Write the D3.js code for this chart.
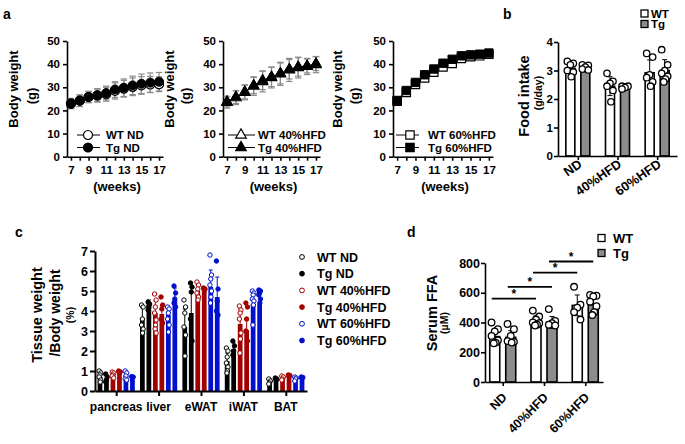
<!DOCTYPE html>
<html><head><meta charset="utf-8">
<script src="https://cdn.jsdelivr.net/npm/d3@7"></script>
<style>
body{margin:0;background:#fff}
svg{display:block;font-family:"Liberation Sans",Arial,Helvetica,sans-serif;font-weight:bold}
</style></head><body>
<svg id="fig" width="685" height="444"></svg>
<script>
// ---------- DATA ----------
// panel a: body weight (g) by week
const weeks=[7,8,9,10,11,12,13,14,15,16,17];
const weekTicks=[7,9,11,13,15,17];
const bwTicks=[0,10,20,30,40,50];
const wtND=[23.0,24.2,25.8,26.4,27.0,28.4,29.4,30.2,30.8,31.2,31.3];
const wtNDsd=[2.2,2.5,2.5,2.8,3.0,3.5,3.6,3.8,3.8,3.5,3.2];
const tgND=[22.8,24.2,25.8,26.6,27.5,29.0,29.8,30.8,31.5,32.0,32.4];
const tgNDsd=[2.0,2.5,2.3,2.8,3.0,3.4,3.8,4.0,4.2,4.2,4.0];
const wt40=[23.5,25.5,27.8,30.5,32.5,34.2,35.8,37.5,38.5,39.0,39.8];
const wt40sd=[2.5,3.0,3.2,4.0,4.5,4.5,5.0,5.0,4.5,3.5,3.5];
const tg40=[23.8,25.8,28.0,30.8,33.0,34.5,36.0,37.8,38.8,39.2,40.2];
const tg40sd=[2.3,2.8,3.0,3.5,4.0,4.2,4.5,4.2,4.0,3.0,3.0];
const wt60=[24.0,27.8,31.2,34.0,36.5,38.8,40.3,42.5,43.2,43.6,44.3];
const wt60sd=[1.0,1.0,1.0,1.2,1.3,1.5,1.5,1.5,1.5,1.5,1.5];
const tg60=[24.3,28.6,32.1,35.4,37.9,40.4,42.1,43.6,44.0,44.3,44.8];
const tg60sd=[0.8,0.9,1.0,1.0,1.0,1.0,1.0,1.0,1.0,1.0,1.0];

// panel b: food intake (g/day)
const dietCats=["ND","40%HFD","60%HFD"];
const genotypes=["WT","Tg"];
const foodTicks=[0,1,2,3,4];
const foodWT=[3.08,2.45,2.92];
const foodWTsd=[0.2,0.33,0.45];
const foodTg=[3.05,2.38,3.0];
const foodTgsd=[0.1,0.06,0.38];
const foodWTdots=[[3.32,3.25,3.2,3.0,2.95,2.78],[2.9,2.62,2.55,2.45,2.3,1.9],[3.6,3.47,2.85,2.75,2.6,2.45]];
const foodTgdots=[[3.2,3.18,3.12,3.05,3.02],[2.45,2.45,2.4,2.35],[3.73,3.2,3.0,2.9,2.8,2.7,2.6]];

// panel c: tissue weight / body weight (%)
const tissues=["pancreas","liver","eWAT","iWAT","BAT"];
const tisGroups=["WT ND","Tg ND","WT 40%HFD","Tg 40%HFD","WT 60%HFD","Tg 60%HFD"];
const tisTicks=[0,1,2,3,4,5,6,7];
const tisWTND=[0.7,3.65,3.2,1.5,0.5];
const tisTgND=[0.62,4.4,3.9,2.1,0.6];
const tisWT40=[0.85,3.9,5.0,3.35,0.65];
const tisTg40=[0.95,3.85,5.1,3.05,0.75];
const tisWT60=[0.78,3.8,5.2,4.35,0.62];
const tisTg60=[0.7,4.55,4.7,4.35,0.65];
const tisWTNDsd=[0.2,0.5,0.9,0.4,0.1];
const tisTgNDsd=[0.2,0.15,1.3,0.3,0.05];
const tisWT40sd=[0.1,0.6,0.3,0.8,0.08];
const tisTg40sd=[0.05,0.4,0.05,0.5,0.03];
const tisWT60sd=[0.2,0.4,0.85,0.5,0.08];
const tisTg60sd=[0.03,0.6,1.0,0.6,0.03];
const tisWTNDdots=[[1.0,0.9,0.8,0.7,0.55,0.45],[4.3,4.2,3.6,3.3,3.1,2.9],[4.55,4.2,3.9,3.2,2.8,1.75],[2.15,2.0,1.7,1.4,1.2,1.0,0.9],[0.6,0.5,0.4,0.35]];
const tisTgNDdots=[[0.85,0.7,0.55,0.45],[4.45,4.35,4.2,4.05],[5.4,5.2,4.95,3.6,2.5],[2.5,2.25,2.0,1.8],[0.65,0.6,0.55]];
const tisWT40dots=[[0.95,0.9,0.8,0.75,0.65],[4.85,4.55,4.2,3.9,3.55,3.3,3.1,2.9],[5.45,5.3,5.1,4.9,4.7,4.55],[4.25,4.05,3.9,3.6,2.9,2.6,1.9],[0.75,0.7,0.6,0.55]];
const tisTg40dots=[[1.0,0.95,0.92],[4.7,4.3,4.1,3.6,3.4],[5.15,5.1,5.05],[4.4,4.2,3.6,3.0,2.5],[0.8,0.78,0.75]];
const tisWT60dots=[[1.0,0.9,0.75,0.6,0.55],[4.2,4.1,3.9,3.6,3.3,2.95],[6.8,5.8,5.6,5.3,5.0,4.7,4.4],[5.0,4.9,4.8,4.6,4.5,4.3,3.3],[0.7,0.65,0.6,0.5]];
const tisTg60dots=[[0.72,0.7,0.68],[5.25,4.9,4.6,4.4,4.2],[6.5,5.1,4.5,4.0,3.8],[5.05,5.0,4.9,4.8,4.6,4.4],[0.7,0.68,0.65]];

// panel d: serum FFA (µM)
const ffaTicks=[0,200,400,600,800];
const ffaWT=[305,410,515];
const ffaWTsd=[50,35,70];
const ffaTg=[300,400,520];
const ffaTgsd=[45,40,50];
const ffaWTdots=[[400,355,340,310,280,265,260],[480,440,420,400,395,385,380],[640,520,500,470,420]];
const ffaTgdots=[[390,355,310,275,270,265],[490,410,395,385,380],[585,580,575,540,510,470,450]];
const ffaSig=[
  {a:["ND","WT"],b:["40%HFD","WT"],level:560},
  {a:["ND","Tg"],b:["40%HFD","Tg"],level:640},
  {a:["40%HFD","WT"],b:["60%HFD","WT"],level:735},
  {a:["40%HFD","Tg"],b:["60%HFD","Tg"],level:810}
];

// ---------- DRAW ----------
const svg=d3.select("#fig");
svg.append("rect").attr("width",685).attr("height",444).attr("fill","#fff");
const FONT='"Liberation Sans",Arial,Helvetica,sans-serif';
const fmtInt=d3.format("d");

function styleAxis(g,fs,sw){
  g.attr("font-family",FONT).attr("font-size",fs).attr("font-weight","bold");
  g.select(".domain").attr("stroke","#000").attr("stroke-width",sw);
  g.selectAll(".tick line").attr("stroke","#000").attr("stroke-width",sw);
  g.selectAll(".tick text").attr("fill","#000");
}
function txt(x,y,s,fs,opt={}){
  const t=svg.append("text").attr("x",x).attr("y",y).text(s)
    .attr("font-size",fs).attr("font-weight","bold").attr("fill","#000")
    .attr("text-anchor",opt.anchor||"start");
  if(opt.rot!==undefined) t.attr("transform",`rotate(${opt.rot},${x},${y})`);
  return t;
}
function jitter(i,amp){const p=[-1,1,0,-1,1,0.3,-0.3,1];return p[i%p.length]*amp;}

// ----- panel a -----
txt(3,19,"a",14);
const aPanels=[
 {left:67,right:163,wt:wtND,wtSd:wtNDsd,tg:tgND,tgSd:tgNDsd,sym:d3.symbolCircle,size:64,wtLab:"WT ND",tgLab:"Tg ND",l1:17.5,l2:35.5,leg:[77,100,88,106]},
 {left:223,right:320,wt:wt40,wtSd:wt40sd,tg:tg40,tgSd:tg40sd,sym:d3.symbolTriangle,size:48,wtLab:"WT 40%HFD",tgLab:"Tg 40%HFD",l1:173.5,l2:190,leg:[228,255,241,258]},
 {left:393,right:493,wt:wt60,wtSd:wt60sd,tg:tg60,tgSd:tg60sd,sym:d3.symbolSquare,size:70,wtLab:"WT 60%HFD",tgLab:"Tg 60%HFD",l1:342,l2:359,leg:[396,419,410,428]}
];
const yA=d3.scaleLinear([0,50],[156.7,41]);
aPanels.forEach(P=>{
  const x=d3.scaleLinear([6.55,17.45],[P.left,P.right]);
  const gy=svg.append("g").attr("transform",`translate(${P.left},0)`)
    .call(d3.axisLeft(yA).tickValues(bwTicks).tickFormat(fmtInt).tickSize(4).tickPadding(3).tickSizeOuter(0));
  styleAxis(gy,11.5,1.6);
  const gx=svg.append("g").attr("transform",`translate(0,${yA(0)})`)
    .call(d3.axisBottom(x).tickValues(weeks).tickSize(4).tickPadding(5).tickSizeOuter(0)
      .tickFormat(d=>weekTicks.includes(d)?d:""));
  styleAxis(gx,11.5,1.6);
  txt((P.left+P.right)/2+2,191,"(weeks)",13,{anchor:"middle"});
  txt(P.l1,89,"Body weight",13,{anchor:"middle",rot:-90});
  txt(P.l2,96,"(g)",13,{anchor:"middle",rot:-90});
  // error bars
  [[P.wt,P.wtSd],[P.tg,P.tgSd]].forEach(([m,s])=>{
    const g=svg.append("g").attr("stroke","#8a8a8a").attr("stroke-width",1.2);
    weeks.forEach((w,i)=>{
      const cx=x(w);
      g.append("line").attr("x1",cx).attr("x2",cx).attr("y1",yA(m[i]-s[i])).attr("y2",yA(m[i]+s[i]));
      g.append("line").attr("x1",cx-3.2).attr("x2",cx+3.2).attr("y1",yA(m[i]+s[i])).attr("y2",yA(m[i]+s[i]));
      g.append("line").attr("x1",cx-3.2).attr("x2",cx+3.2).attr("y1",yA(m[i]-s[i])).attr("y2",yA(m[i]-s[i]));
    });
  });
  const line=d3.line().x((d,i)=>x(weeks[i])).y(d=>yA(d));
  svg.append("path").attr("d",line(P.wt)).attr("fill","none").attr("stroke","#000").attr("stroke-width",1);
  svg.append("path").attr("d",line(P.tg)).attr("fill","none").attr("stroke","#000").attr("stroke-width",1);
  const sym=d3.symbol(P.sym,P.size);
  svg.append("g").selectAll("path").data(P.wt).join("path").attr("d",sym)
    .attr("transform",(d,i)=>`translate(${x(weeks[i])},${yA(d)})`)
    .attr("fill","#fff").attr("stroke","#000").attr("stroke-width",1.2);
  svg.append("g").selectAll("path").data(P.tg).join("path").attr("d",sym)
    .attr("transform",(d,i)=>`translate(${x(weeks[i])},${yA(d)})`)
    .attr("fill","#000").attr("stroke","#000").attr("stroke-width",1);
  // legend
  const [lx0,lx1,mx,tx]=P.leg;
  [[P.wtLab,"#fff",135],[P.tgLab,"#000",147.5]].forEach(([lab,fill,ly])=>{
    svg.append("line").attr("x1",lx0).attr("x2",lx1).attr("y1",ly).attr("y2",ly).attr("stroke","#000").attr("stroke-width",1);
    svg.append("path").attr("d",sym).attr("transform",`translate(${mx},${ly})`).attr("fill",fill).attr("stroke","#000").attr("stroke-width",1.2);
    txt(tx,ly+4,lab,11.5);
  });
});

// generic grouped bar drawing with dots (panels b and d)
function pairBars(cfg){
  const {xC,sub,y,wt,wtSd,tg,tgSd,wtDots,tgDots,r,amp}=cfg;
  const series=[{k:"WT",m:wt,s:wtSd,d:wtDots,fill:"#fff"},{k:"Tg",m:tg,s:tgSd,d:tgDots,fill:"#8c8c8c"}];
  const bw=sub.bandwidth();
  series.forEach(S=>{
    dietCats.forEach((c,i)=>{
      const x0=xC(c)+sub(S.k), cx=x0+bw/2, v=S.m[i], sd=S.s[i];
      svg.append("rect").attr("x",x0).attr("y",y(v)).attr("width",bw).attr("height",y(0)-y(v))
        .attr("fill",S.fill).attr("stroke","#000").attr("stroke-width",1.6);
      svg.append("line").attr("x1",cx).attr("x2",cx).attr("y1",y(v-sd)).attr("y2",y(v+sd)).attr("stroke","#000").attr("stroke-width",1);
      [v-sd,v+sd].forEach(e=>svg.append("line").attr("x1",cx-2.5).attr("x2",cx+2.5).attr("y1",y(e)).attr("y2",y(e)).attr("stroke","#000").attr("stroke-width",1));
      S.d[i].forEach((dv,j)=>{
        svg.append("circle").attr("cx",cx+jitter(j,amp)).attr("cy",y(dv)).attr("r",r)
          .attr("fill","#fff").attr("stroke","#000").attr("stroke-width",1.3);
      });
    });
  });
}

// ----- panel b -----
txt(503,19,"b",14);
const yB=d3.scaleLinear([0,4],[156,42]);
const xB=d3.scalePoint(dietCats,[558,677]).padding(0.5);
const subB=d3.scaleBand(genotypes,[-12,12]).paddingInner(0.4);
styleAxis(svg.append("g").attr("transform","translate(558,0)")
  .call(d3.axisLeft(yB).tickValues(foodTicks).tickFormat(fmtInt).tickSize(4).tickPadding(1).tickSizeOuter(0)),11.5,1.6);
pairBars({xC:xB,sub:subB,y:yB,wt:foodWT,wtSd:foodWTsd,tg:foodTg,tgSd:foodTgsd,wtDots:foodWTdots,tgDots:foodTgdots,r:3.2,amp:3});
styleAxis(svg.append("g").attr("transform",`translate(0,${yB(0)})`)
  .call(d3.axisBottom(xB).tickSize(4).tickSizeOuter(0).tickFormat("")),11,1.6);
dietCats.forEach(c=>txt(xB(c)+5,166,c,13,{anchor:"end",rot:-35}));
txt(528.5,96,"Food intake",14.5,{anchor:"middle",rot:-90});
txt(542,93,"(g/day)",10.5,{anchor:"middle",rot:-90});
[["WT","#fff",13.5],["Tg","#8c8c8c",24]].forEach(([lab,fill,ly])=>{
  svg.append("rect").attr("x",641).attr("y",ly-3.5).attr("width",7).attr("height",7).attr("fill",fill).attr("stroke","#000").attr("stroke-width",1.3);
  txt(651,ly+4,lab,11.5);
});

// ----- panel c -----
txt(15,237,"c",14);
const tisColors=["#000","#000","#a30000","#a30000","#0010cc","#0010cc"];
const tisOpen=[true,false,true,false,true,false];
const tisMeans=[tisWTND,tisTgND,tisWT40,tisTg40,tisWT60,tisTg60];
const tisSds=[tisWTNDsd,tisTgNDsd,tisWT40sd,tisTg40sd,tisWT60sd,tisTg60sd];
const tisDots=[tisWTNDdots,tisTgNDdots,tisWT40dots,tisTg40dots,tisWT60dots,tisTg60dots];
const yC=d3.scaleLinear([0,7],[391,251]);
const xC=d3.scalePoint(tissues,[95,307]).padding(0.5);
const subC=d3.scaleBand(tisGroups,[-18.6,18.6]).paddingInner(0.27);
const bwC=subC.bandwidth();
tisGroups.forEach((grp,gi)=>{
  const col=tisColors[gi];
  tissues.forEach((t,ti)=>{
    const x0=xC(t)+subC(grp), cx=x0+bwC/2, v=tisMeans[gi][ti], sd=tisSds[gi][ti];
    svg.append("rect").attr("x",x0).attr("y",yC(v)).attr("width",bwC).attr("height",yC(0)-yC(v)).attr("fill",col);
    svg.append("line").attr("x1",cx).attr("x2",cx).attr("y1",yC(v)).attr("y2",yC(v+sd)).attr("stroke",col).attr("stroke-width",1);
    svg.append("line").attr("x1",cx-2).attr("x2",cx+2).attr("y1",yC(v+sd)).attr("y2",yC(v+sd)).attr("stroke",col).attr("stroke-width",1);
    tisDots[gi][ti].forEach((dv,j)=>{
      svg.append("circle").attr("cx",cx+jitter(j,0.8)).attr("cy",yC(dv)).attr("r",2.2)
        .attr("fill",tisOpen[gi]?"#fff":col).attr("stroke",col).attr("stroke-width",1);
    });
  });
});
styleAxis(svg.append("g").attr("transform","translate(95,0)")
  .call(d3.axisLeft(yC).tickValues(tisTicks).tickFormat(fmtInt).tickSize(5).tickPadding(2).tickSizeOuter(0)),12.5,2);
styleAxis(svg.append("g").attr("transform",`translate(0,${yC(0)})`)
  .call(d3.axisBottom(xC).tickSize(5).tickSizeOuter(0).tickFormat("")),12,2);
tissues.forEach(t=>txt(xC(t),411,t,12,{anchor:"middle"}));
txt(42,315,"Tissue weight",14.5,{anchor:"middle",rot:-90});
txt(60,313,"/Body weight",14,{anchor:"middle",rot:-90});
txt(74,315,"(%)",10.5,{anchor:"middle",rot:-90});
tisGroups.forEach((grp,gi)=>{
  const ly=257+gi*16.7;
  svg.append("circle").attr("cx",302).attr("cy",ly).attr("r",2.4)
    .attr("fill",tisOpen[gi]?"#fff":tisColors[gi]).attr("stroke",tisColors[gi]).attr("stroke-width",1);
  txt(317,ly+4.5,grp,12.5);
});

// ----- panel d -----
txt(407,237,"d",14);
const yD=d3.scaleLinear([0,800],[382,263]);
const xD=d3.scalePoint(dietCats,[485,603]).padding(0.43);
const subD=d3.scaleBand(genotypes,[-13,13]).paddingInner(0.375);
styleAxis(svg.append("g").attr("transform","translate(485,0)")
  .call(d3.axisLeft(yD).tickValues(ffaTicks).tickFormat(fmtInt).tickSize(4).tickPadding(1).tickSizeOuter(0)),12.5,1.6);
pairBars({xC:xD,sub:subD,y:yD,wt:ffaWT,wtSd:ffaWTsd,tg:ffaTg,tgSd:ffaTgsd,wtDots:ffaWTdots,tgDots:ffaTgdots,r:3.3,amp:3.2});
styleAxis(svg.append("g").attr("transform",`translate(0,${yD(0)})`)
  .call(d3.axisBottom(xD).tickSize(4).tickSizeOuter(0).tickFormat("")),12,1.6);
dietCats.forEach(c=>txt(xD(c)+5,398,c,12.5,{anchor:"end",rot:-45}));
txt(437,313,"Serum FFA",14.5,{anchor:"middle",rot:-90});
txt(448,323,"(µM)",10.5,{anchor:"middle",rot:-90});
ffaSig.forEach(s=>{
  const xa=xD(s.a[0])+subD(s.a[1])+subD.bandwidth()/2-3;
  const xb=xD(s.b[0])+subD(s.b[1])+subD.bandwidth()/2;
  svg.append("line").attr("x1",xa).attr("x2",xb).attr("y1",yD(s.level)).attr("y2",yD(s.level)).attr("stroke","#000").attr("stroke-width",1.8);
  txt((xa+xb)/2,yD(s.level)-1,"*",12,{anchor:"middle"});
});
[["WT","#fff",238],["Tg","#8c8c8c",253]].forEach(([lab,fill,ly])=>{
  svg.append("rect").attr("x",598).attr("y",ly-3.5).attr("width",7).attr("height",7).attr("fill",fill).attr("stroke","#000").attr("stroke-width",1.3);
  txt(613,ly+4.5,lab,13);
});
</script>
</body></html>
